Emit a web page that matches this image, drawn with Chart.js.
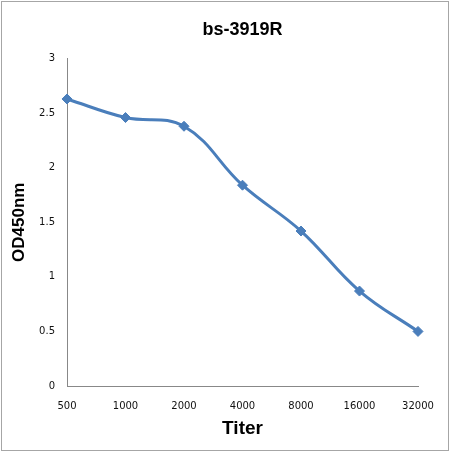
<!DOCTYPE html>
<html>
<head>
<meta charset="utf-8">
<script src="https://cdn.jsdelivr.net/npm/chart.js@4"></script>
<style>
  html, body { margin: 0; padding: 0; background: #fff; }
  #wrap { width: 450px; height: 452px; position: relative; }
</style>
</head>
<body>
<div id="wrap"><canvas id="odChart" width="450" height="452"></canvas></div>
<script>
// titer dilutions and OD450 readings
const titers = ['500', '1000', '2000', '4000', '8000', '16000', '32000'];
const odValues = [2.63, 2.46, 2.38, 1.84, 1.42, 0.87, 0.50];
const yTicks = [0, 0.5, 1, 1.5, 2, 2.5, 3];

const lineBlue = '#4A7EBB';

// grey frame round the whole picture
const framePlugin = {
  id: 'frame',
  afterDraw(chart) {
    const c = chart.ctx;
    c.save();
    c.strokeStyle = '#a6a6a6';
    c.lineWidth = 1;
    c.strokeRect(1.5, 1.5, chart.width - 3, chart.height - 3);
    c.restore();
  }
};

const ctx = document.getElementById('odChart').getContext('2d');
const odChart = new Chart(ctx, {
  type: 'line',
  data: {
    labels: titers,
    datasets: [{
      label: 'OD450nm',
      data: odValues,
      borderColor: lineBlue,
      backgroundColor: lineBlue,
      borderWidth: 3,
      tension: 0.4,
      pointStyle: 'rectRot',
      pointRadius: 5,
      pointBorderWidth: 1,
      pointBackgroundColor: lineBlue,
      pointBorderColor: lineBlue
    }]
  },
  options: {
    responsive: false,
    animation: false,
    layout: { padding: { left: 0, right: 32, top: 0, bottom: 0 } },
    plugins: {
      legend: { display: false },
      tooltip: { enabled: false },
      title: {
        display: true,
        text: 'bs-3919R',
        fullSize: false,
        color: '#000',
        font: { family: 'Liberation Sans', size: 18, weight: 'bold' },
        padding: { top: 19, bottom: 18 }
      }
    },
    scales: {
      x: {
        offset: false,
        grid: { display: false, drawTicks: false },
        border: { display: true, color: '#888', width: 1 },
        ticks: {
          color: '#111',
          padding: 14,
          maxRotation: 0,
          autoSkip: false,
          font: { family: 'DejaVu Sans', size: 10 }
        },
        title: {
          display: true,
          text: 'Titer',
          color: '#000',
          font: { family: 'Liberation Sans', size: 19, weight: 'bold' },
          padding: { top: 4, bottom: 12 }
        },
        afterFit(scale) { scale.height = 66; }
      },
      y: {
        min: 0,
        max: 3,
        afterBuildTicks(scale) { scale.ticks = yTicks.map(v => ({ value: v })); },
        grid: { display: false, drawTicks: false },
        border: { display: true, color: '#888', width: 1 },
        ticks: {
          color: '#111',
          padding: 12,
          font: { family: 'DejaVu Sans', size: 10 },
          callback: v => String(v)
        },
        title: {
          display: true,
          text: 'OD450nm',
          color: '#000',
          font: { family: 'Liberation Sans', size: 17, weight: 'bold' },
          padding: { top: 9, bottom: 0 }
        },
        afterFit(scale) { scale.width = 67; }
      }
    }
  },
  plugins: [framePlugin]
});
</script>
</body>
</html>
